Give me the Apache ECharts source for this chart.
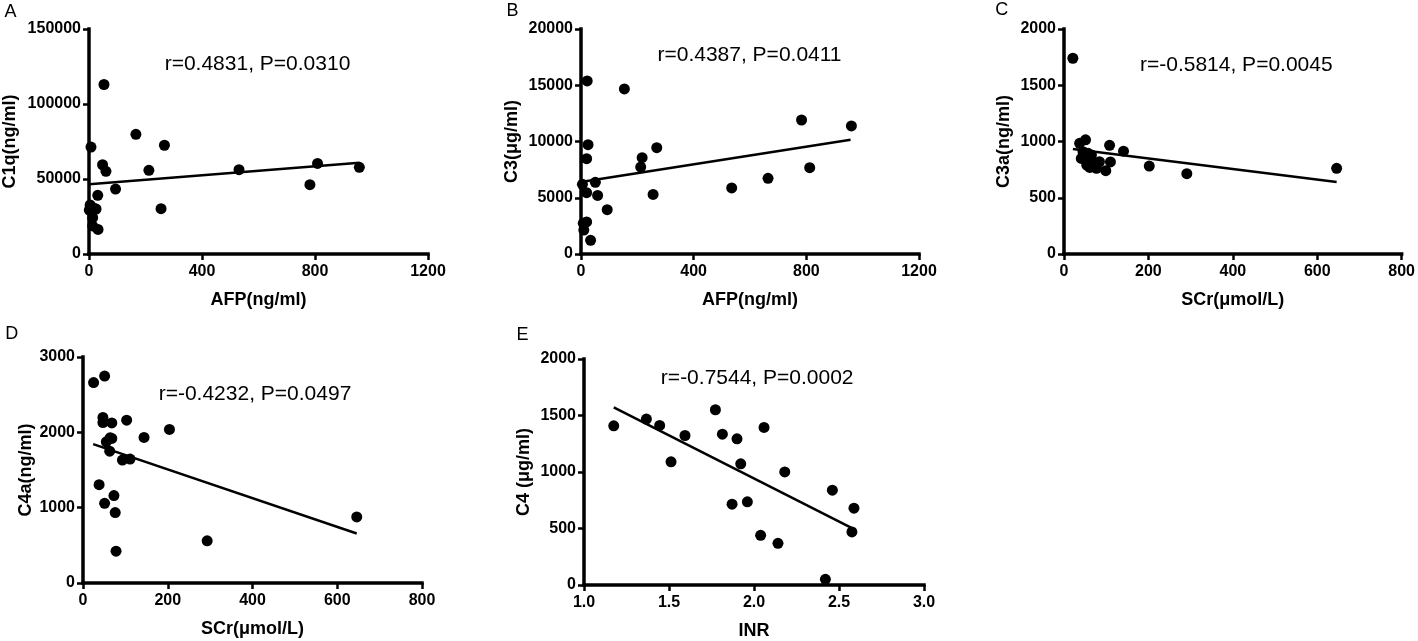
<!DOCTYPE html>
<html>
<head>
<meta charset="utf-8">
<script src="https://cdn.jsdelivr.net/npm/echarts@6/dist/echarts.min.js"></script>
<style>
html,body{margin:0;padding:0;background:#fff;}
#chart{width:1418px;height:641px;}
</style>
</head>
<body>
<div id="chart"></div>
<script>
// ---- Data ----
const panelLetters = ['A', 'B', 'C', 'D', 'E'];
const statTexts = ['r=0.4831, P=0.0310', 'r=0.4387, P=0.0411', 'r=-0.5814, P=0.0045', 'r=-0.4232, P=0.0497', 'r=-0.7544, P=0.0002'];
const xNames = ['AFP(ng/ml)', 'AFP(ng/ml)', 'SCr(\u03bcmol/L)', 'SCr(\u03bcmol/L)', 'INR'];
const yNames = ['C1q(ng/ml)', 'C3(\u03bcg/ml)', 'C3a(ng/ml)', 'C4a(ng/ml)', 'C4 (\u03bcg/ml)'];
const xMin = [0, 0, 0, 0, 1.0];
const xMax = [1200, 1200, 800, 800, 3.0];
const xStep = [400, 400, 200, 200, 0.5];
const yMax = [150000, 20000, 2000, 3000, 2000];
const yStep = [50000, 5000, 500, 1000, 500];

const pointsA = [[53,113000],[166,79800],[267,72500],[7,71300],[48,59500],[60,55100],[212,55800],[531,56200],[809,60400],[957,57800],[782,46200],[94,43300],[31,39100],[255,30200],[4,32700],[18,30500],[25,30000],[1,29300],[13,24200],[13,18700],[32,16400]];
const pointsB = [[22,15380],[154,14670],[783,11910],[960,11380],[25,9720],[269,9450],[20,8470],[217,8560],[212,7730],[812,7670],[51,6370],[5,6190],[664,6730],[535,5870],[20,5450],[59,5210],[256,5300],[93,3940],[8,2730],[20,2850],[10,2130],[34,1220]];
const pointsC = [[21,1740],[37,984],[51,1015],[108,966],[141,914],[202,782],[291,714],[646,762],[45,909],[57,895],[41,850],[65,820],[84,820],[110,818],[61,770],[77,762],[99,741],[54,790],[65,880],[50,870]];
const pointsD = [[25,2660],[51,2747],[47,2197],[47,2130],[68,2125],[103,2161],[204,2038],[144,1932],[64,1927],[68,1919],[55,1874],[63,1750],[93,1632],[111,1645],[38,1305],[73,1160],[51,1058],[76,935],[78,423],[293,560],[646,877]];
const pointsE = [[1.175,1409],[1.367,1468],[1.445,1412],[1.594,1323],[1.512,1090],[1.773,1551],[1.814,1335],[1.900,1294],[2.059,1394],[1.922,1072],[2.181,1001],[1.871,715],[1.961,736],[2.461,839],[2.588,680],[2.576,470],[2.039,440],[2.141,369],[2.420,50]];

const fitA = [[1,46500],[957,60900]];
const fitB = [[5,6430],[957,10150]];
const fitC = [[21,933],[646,640]];
const fitD = [[24,1843],[646,657]];
const fitE = [[1.175,1571],[2.588,494]];

const allPoints = [pointsA, pointsB, pointsC, pointsD, pointsE];
const allFits = [fitA, fitB, fitC, fitD, fitE];

// ---- Layout / style (not data) ----
const FONT = '"Liberation Sans", Arial, Helvetica, sans-serif';
const grids = [
  {left: 89, top: 29, width: 339, height: 225},
  {left: 581, top: 29, width: 338, height: 225},
  {left: 1064, top: 29, width: 338, height: 225},
  {left: 83, top: 357, width: 339, height: 226},
  {left: 584, top: 359, width: 340, height: 226}
];
const yNameGap = [70, 60, 51, 41, 51];
const letterPos = [[10.5,12.5],[512.5,11.5],[1001.7,10.3],[11.7,333.7],[522.5,335.5]];
const statPos = [[257.5,64],[749.5,55],[1236.3,65],[255,394.7],[757.2,378.3]];

const axisLine = {show: true, onZero: false, lineStyle: {color: '#000', width: 3.5, cap: 'square'}};
const axisTick = {show: true, length: 6, lineStyle: {color: '#000', width: 2.5}};

const option = {
  backgroundColor: '#fff',
  animation: false,
  grid: grids.map(g => Object.assign({containLabel: false}, g)),
  xAxis: grids.map((g, i) => ({
    gridIndex: i, type: 'value', min: xMin[i], max: xMax[i], interval: xStep[i],
    name: xNames[i], nameLocation: 'middle', nameGap: 37,
    nameTextStyle: {fontFamily: FONT, fontWeight: 'bold', fontSize: 18, color: '#000'},
    axisLine: axisLine, axisTick: axisTick, splitLine: {show: false},
    axisLabel: {color: '#000', fontFamily: FONT, fontWeight: 'bold', fontSize: 16, margin: 10,
      formatter: v => i === 4 ? v.toFixed(1) : String(v)}
  })),
  yAxis: grids.map((g, i) => ({
    gridIndex: i, type: 'value', min: 0, max: yMax[i], interval: yStep[i],
    name: yNames[i], nameLocation: 'middle', nameGap: yNameGap[i],
    nameTextStyle: {fontFamily: FONT, fontWeight: 'bold', fontSize: 18, color: '#000'},
    axisLine: axisLine, axisTick: axisTick, splitLine: {show: false},
    axisLabel: {color: '#000', fontFamily: FONT, fontWeight: 'bold', fontSize: 16, margin: 8,
      formatter: v => String(v)}
  })),
  series: [],
  graphic: []
};

allPoints.forEach((pts, i) => {
  option.series.push({
    type: 'line', xAxisIndex: i, yAxisIndex: i, data: allFits[i],
    showSymbol: false, symbol: 'none', lineStyle: {color: '#000', width: 2.5}, z: 2
  });
  option.series.push({
    type: 'scatter', xAxisIndex: i, yAxisIndex: i, data: pts,
    symbol: 'circle', symbolSize: 11, itemStyle: {color: '#000', opacity: 1}, z: 3
  });
  option.graphic.push({
    type: 'text', x: letterPos[i][0], y: letterPos[i][1],
    style: {text: panelLetters[i], fontFamily: FONT, fontSize: 18, fill: '#000', align: 'center', verticalAlign: 'middle'}
  });
  option.graphic.push({
    type: 'text', x: statPos[i][0], y: statPos[i][1],
    style: {text: statTexts[i], fontFamily: FONT, fontSize: 21, fill: '#000', align: 'center', verticalAlign: 'middle'}
  });
});

const chart = echarts.init(document.getElementById('chart'), null, {renderer: 'canvas'});
chart.setOption(option);
</script>
</body>
</html>
